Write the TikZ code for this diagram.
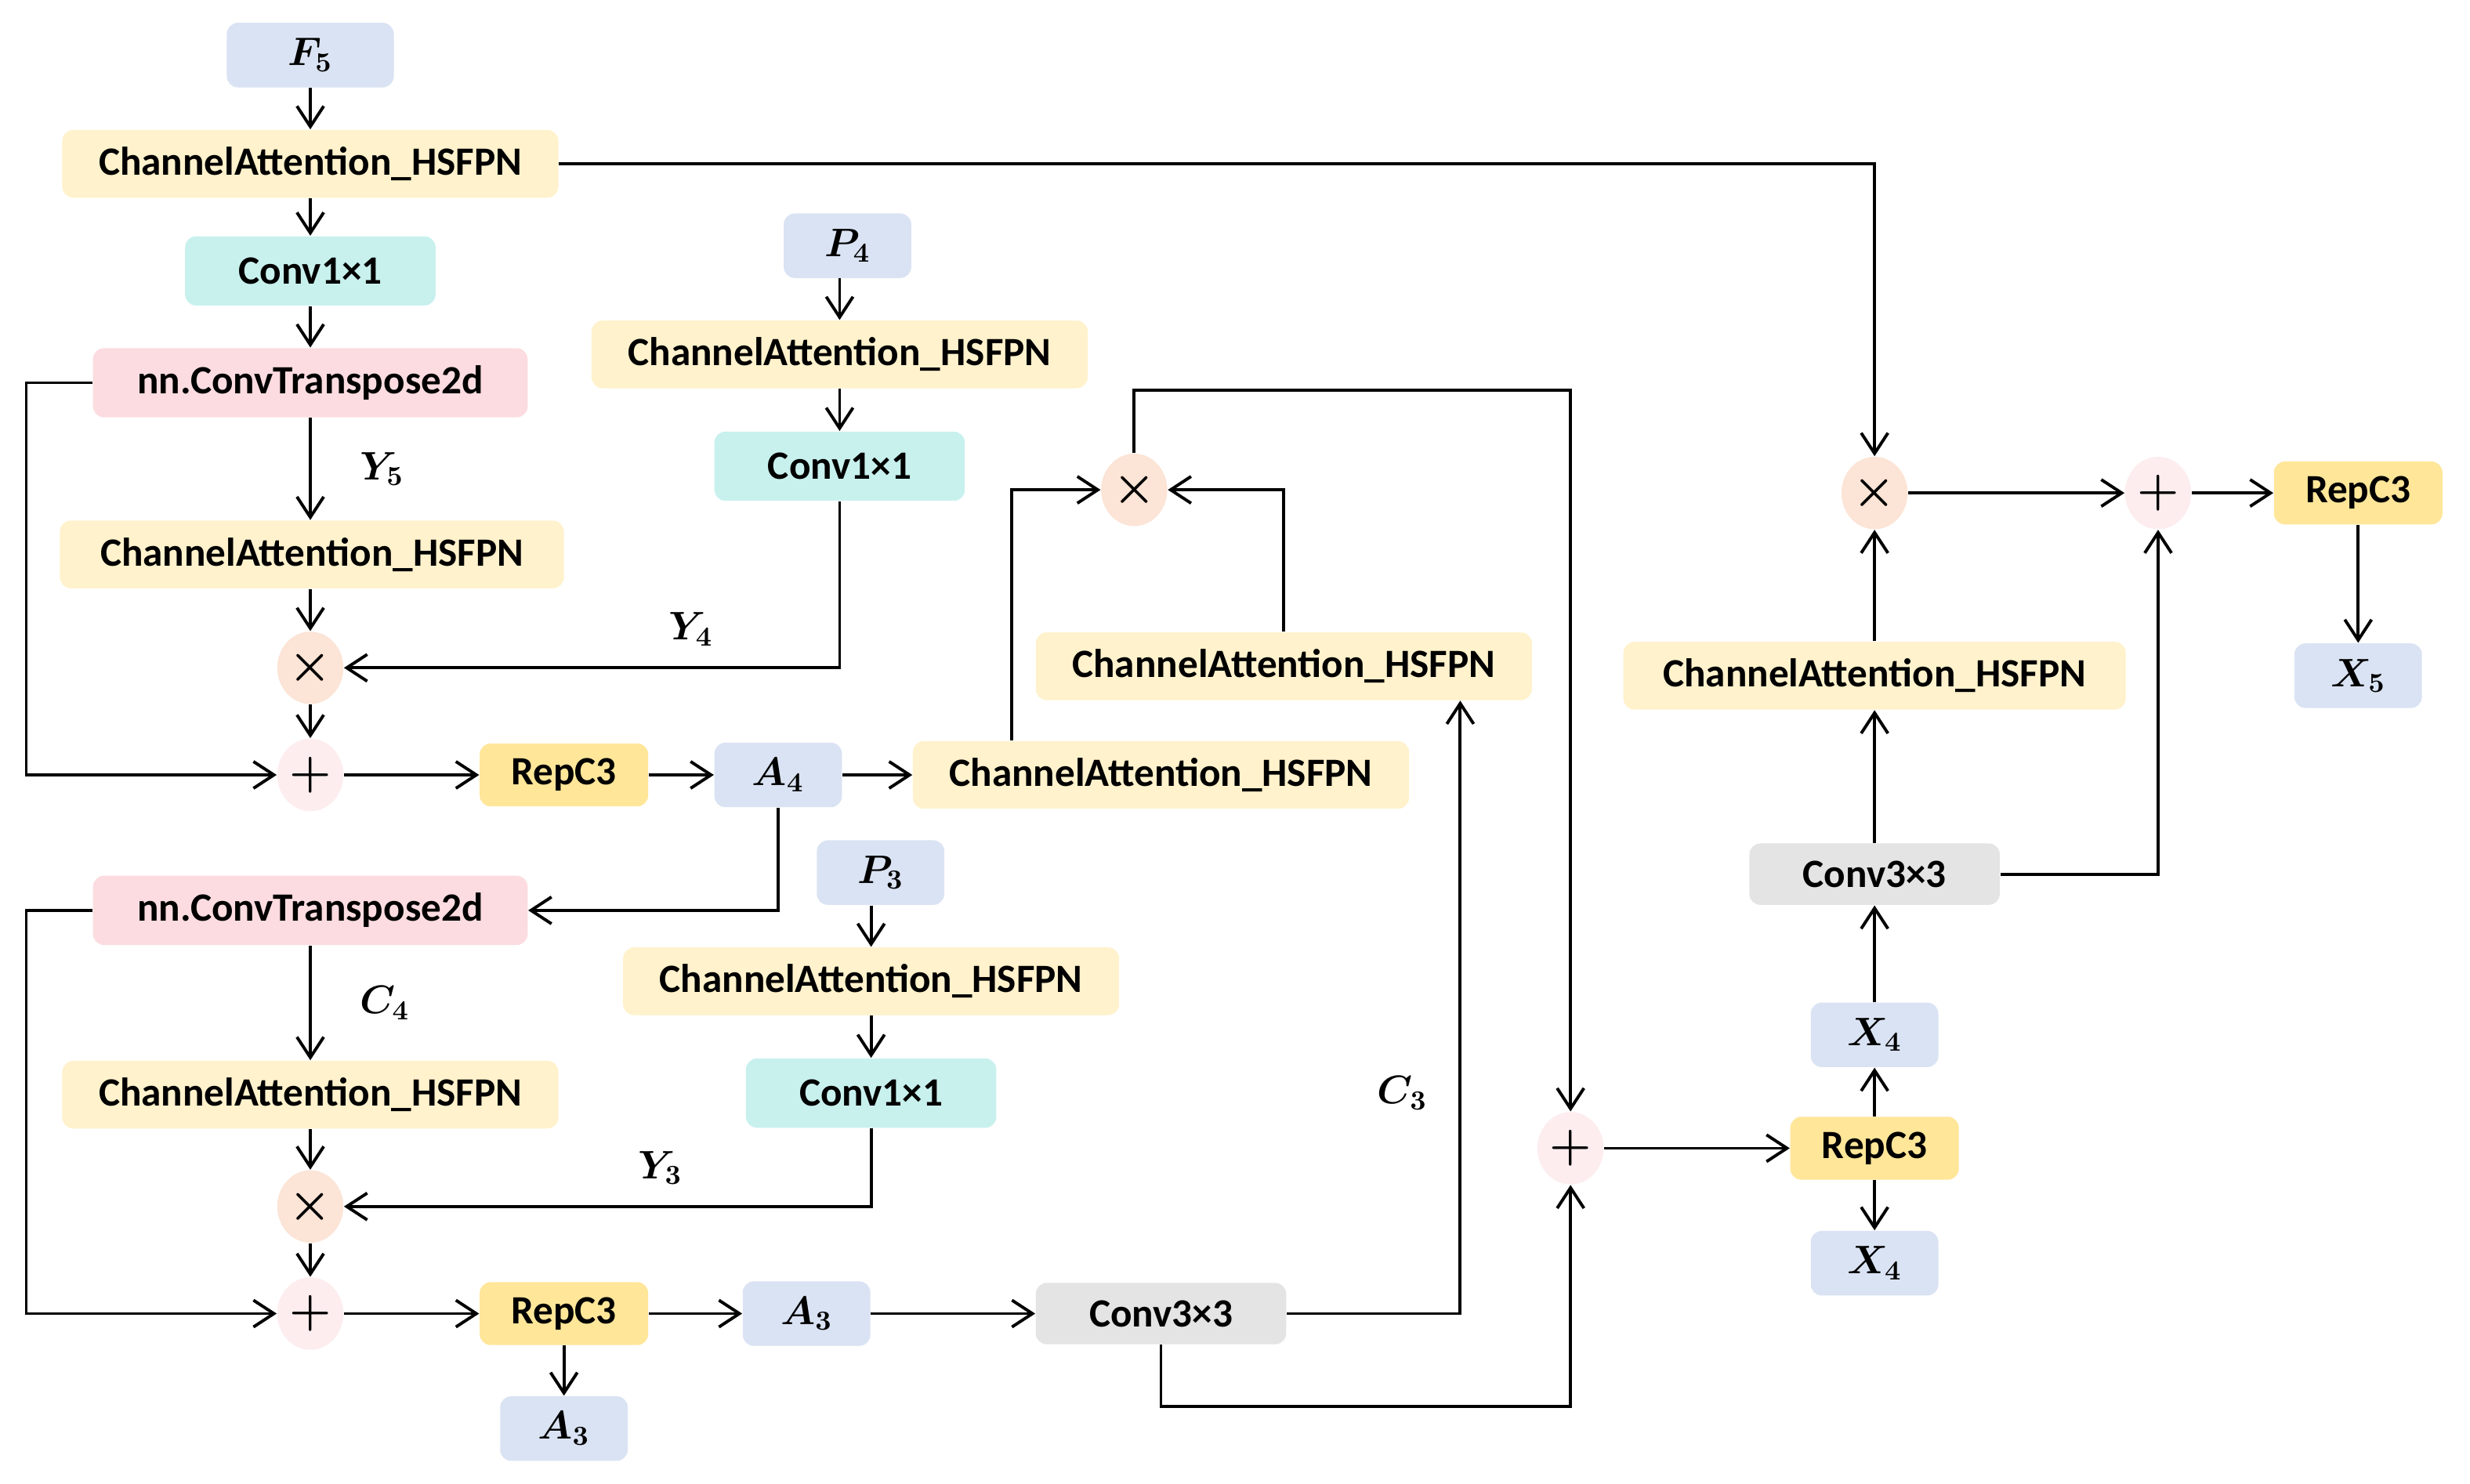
\documentclass[tikz,border=0pt]{standalone}
\usepackage[no-math]{fontspec}
\setmainfont{Carlito}
\usepackage{bm}
\usetikzlibrary{arrows.meta,shapes.geometric}

\definecolor{caYellow}{HTML}{FFF2CC}
\definecolor{convCyan}{HTML}{C8F1EE}
\definecolor{ctPink}{HTML}{FCDCE0}
\definecolor{repYellow}{HTML}{FFE699}
\definecolor{varBlue}{HTML}{DAE3F3}
\definecolor{convGray}{HTML}{E4E4E4}
\definecolor{mulOrange}{HTML}{FCE4D6}
\definecolor{addPink}{HTML}{FDEDEE}

\newcommand{\lblfont}{\fontsize{14.5}{17}\selectfont\bfseries}
\newcommand{\opfont}{\fontsize{19}{21}\selectfont}

\begin{document}
\begin{tikzpicture}[
  x=0.02cm, y=-0.02cm,
  arr/.style={-{Straight Barb[length=0.26cm,width=0.34cm]}, line width=1.1pt},
  box/.style={rounded corners=4pt, inner sep=0pt, font=\lblfont},
  ca/.style={box, fill=caYellow, minimum width=6.3cm, minimum height=0.86cm},
  cone/.style={box, fill=convCyan, minimum width=3.18cm, minimum height=0.88cm},
  ct/.style={box, fill=ctPink, minimum width=5.52cm, minimum height=0.88cm},
  rep/.style={box, fill=repYellow, minimum width=2.14cm, minimum height=0.8cm},
  var/.style={box, fill=varBlue, minimum width=1.62cm, minimum height=0.82cm},
  cthree/.style={box, fill=convGray, minimum width=3.18cm, minimum height=0.78cm},
  mulop/.style={ellipse, fill=mulOrange, minimum width=0.84cm, minimum height=0.92cm, inner sep=0pt, font=\opfont},
  addop/.style={mulop, fill=addPink},
  lab/.style={font=\lblfont}
]
\useasboundingbox[fill=white] (0,0) rectangle (1568,942);

% upper left branch
\node[var, minimum width=2.12cm] (f5) at (197,35) {$\bm{F}_{\bm{5}}$};
\node[ca] (ca1) at (197,104) {ChannelAttention\_HSFPN};
\node[cone] (conv1) at (197,172) {Conv1×1};
\node[ct] (ct1) at (197,243) {nn.ConvTranspose2d};
\node[ca, minimum width=6.4cm] (ca2) at (198,352) {ChannelAttention\_HSFPN};
\node[mulop] (mul1) at (197,424) {$\bm{\times}$};
\node[addop] (add1) at (197,492) {$\bm{+}$};
\node[rep] (rep1) at (358,492) {RepC3};
\node[var] (a4) at (494,492) {$\bm{A}_{\bm{4}}$};
\node[ca] (ca3) at (737,492) {ChannelAttention\_HSFPN};
\node[var] (p4) at (538,156) {$\bm{P}_{\bm{4}}$};
\node[ca] (ca4) at (533,225) {ChannelAttention\_HSFPN};
\node[cone] (conv2) at (533,296) {Conv1×1};

% middle
\node[mulop] (mul2) at (720,311) {$\bm{\times}$};
\node[ca] (ca5) at (815,423) {ChannelAttention\_HSFPN};

% lower left branch
\node[ct] (ct2) at (197,578) {nn.ConvTranspose2d};
\node[ca] (ca6) at (197,695) {ChannelAttention\_HSFPN};
\node[mulop] (mul3) at (197,766) {$\bm{\times}$};
\node[addop] (add2) at (197,834) {$\bm{+}$};
\node[rep] (rep2) at (358,834) {RepC3};
\node[var] (a3r) at (512,834) {$\bm{A}_{\bm{3}}$};
\node[var] (a3b) at (358,907) {$\bm{A}_{\bm{3}}$};
\node[cthree] (c3a) at (737,834) {Conv3×3};
\node[var] (p3) at (559,554) {$\bm{P}_{\bm{3}}$};
\node[ca] (ca7) at (553,623) {ChannelAttention\_HSFPN};
\node[cone] (conv4) at (553,694) {Conv1×1};

% right branch
\node[addop] (add3) at (997,729) {$\bm{+}$};
\node[rep] (rep3) at (1190,729) {RepC3};
\node[var] (x4t) at (1190,657) {$\bm{X}_{\bm{4}}$};
\node[var] (x4b) at (1190,802) {$\bm{X}_{\bm{4}}$};
\node[cthree] (c3b) at (1190,555) {Conv3×3};
\node[ca, minimum width=6.38cm] (ca8) at (1190,429) {ChannelAttention\_HSFPN};
\node[mulop] (mul4) at (1190,313) {$\bm{\times}$};
\node[addop] (add4) at (1370,313) {$\bm{+}$};
\node[rep] (rep4) at (1497,313) {RepC3};
\node[var] (x5) at (1497,429) {$\bm{X}_{\bm{5}}$};

% connectors
\foreach \a/\b in {f5/ca1, ca1/conv1, conv1/ct1, mul1/add1, add1/rep1, rep1/a4, a4/ca3,
                   ca4/conv2, ca6/mul3, mul3/add2, add2/rep2, rep2/a3r, a3r/c3a, rep2/a3b,
                   ca7/conv4, add3/rep3, rep3/x4t, rep3/x4b, x4t/c3b, c3b/ca8, ca8/mul4,
                   mul4/add4, add4/rep4, rep4/x5}
  \draw[arr] (\a) -- (\b);

\draw[arr] (ca2.south -| mul1) -- (mul1);
\draw[arr] (p4.south -| ca4) -- (ca4);
\draw[arr] (p3.south -| ca7) -- (ca7);
\draw[arr] (ct1) -- node[lab, right=14pt] {$\bm{Y}_{\bm{5}}$} (ct1 |- ca2.north);
\draw[arr] (ct2) -- node[lab, right=14pt] {$\bm{C}_{\bm{4}}$} (ca6);
\draw[arr] (ct1.west) -- ++(-42,0) |- (add1);
\draw[arr] (ct2.west) -- ++(-42,0) |- (add2);
\draw[arr] (conv2) |- node[lab, pos=0.65, above=4pt] {$\bm{Y}_{\bm{4}}$} (mul1);
\draw[arr] (conv4) |- node[lab, pos=0.7, above=4pt] {$\bm{Y}_{\bm{3}}$} (mul3);
\draw[arr] (a4) |- (ct2);
\draw[arr] ([xshift=-1.9cm]ca3.north) |- (mul2);
\draw[arr] (ca5) |- (mul2);
\draw[arr] (mul2.north) -- ++(0,-40) -| (add3);
\draw[arr] (c3a) -| node[lab, pos=0.68, left=8pt] {$\bm{C}_{\bm{3}}$} ([xshift=2.24cm]ca5.south);
\draw[arr] (c3a.south) -- ++(0,39) -| (add3);
\draw[arr] (ca1) -| (mul4);
\draw[arr] (c3b) -| (add4);
\end{tikzpicture}
\end{document}
